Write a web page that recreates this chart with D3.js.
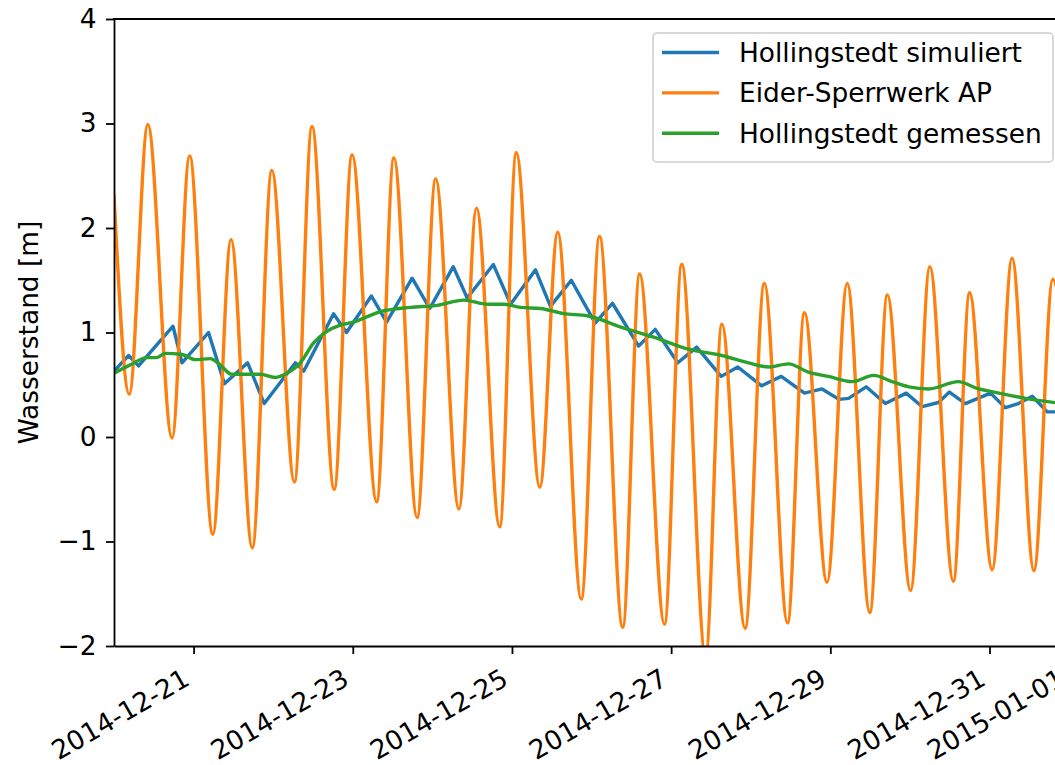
<!DOCTYPE html>
<html>
<head>
<meta charset="utf-8">
<script src="https://cdn.jsdelivr.net/npm/d3@7"></script>
<style>
  body { margin: 0; background: #fff; }
  svg { display: block; font-family: "DejaVu Sans", sans-serif; }
</style>
</head>
<body>
<div id="chart"></div>
<script>
// time values are hours after 2014-12-20 00:00
var startDay = "2014-12-20";

var seriesNames = ["Hollingstedt simuliert", "Eider-Sperrwerk AP", "Hollingstedt gemessen"];
var seriesColors = ["#1f77b4", "#ff7f0e", "#2ca02c"];

var xTickLabels = ["2014-12-21", "2014-12-23", "2014-12-25", "2014-12-27", "2014-12-29", "2014-12-31", "2015-01-01"];
var yTicks = [-2, -1, 0, 1, 2, 3, 4];
var yLabel = "Wasserstand [m]";

var simHours = [0, 4.4, 7.4, 17.8, 20.5, 28.5, 33.3, 40.3, 45.3, 54.7, 57.2, 66.2, 70.1, 77.6, 82.2, 89.9, 95.2,
    102.3, 106.5, 114.4, 119.6, 127.1, 131.6, 137.9, 145.1, 150.3, 158.2, 163.2, 170.0, 175.7, 183.1, 188.1,
    195.3, 201.2, 208.2, 213.5, 218.6, 221.5, 226.8, 232.6, 238.9, 243.7, 248.6, 251.9, 256.7, 264.3, 268.8,
    272.7, 276.9, 281.4, 286];
var simValues = [0.63, 0.78, 0.68, 1.06, 0.71, 1.0, 0.51, 0.71, 0.32, 0.71, 0.63, 1.18, 1.0, 1.35, 1.10, 1.52, 1.23,
    1.63, 1.33, 1.65, 1.27, 1.60, 1.25, 1.50, 1.09, 1.28, 0.87, 1.03, 0.71, 0.86, 0.58, 0.67,
    0.49, 0.58, 0.42, 0.46, 0.36, 0.37, 0.48, 0.32, 0.42, 0.29, 0.33, 0.43, 0.32, 0.42, 0.28,
    0.32, 0.39, 0.24, 0.24];

var apHours = [0, 4.6, 10.2, 17.5, 22.8, 29.8, 35.3, 41.7, 47.6, 54.4, 59.7, 66.4, 71.8, 79.2, 84.4, 91.4, 97.0,
    104.0, 109.3, 116.3, 121.3, 128.4, 133.8, 140.9, 146.4, 153.4, 158.5, 166.0, 171.2, 178.4, 183.3, 190.3,
    196.1, 203.1, 208.2, 215.0, 221.1, 227.9, 233.2, 240.2, 246.0, 253.1, 258.0, 264.8, 270.8, 277.4, 283.1, 289.5];
var apValues = [2.31, 0.41, 2.99, -0.01, 2.69, -0.93, 1.89, -1.06, 2.55, -0.43, 2.97, -0.50, 2.70, -0.62, 2.67, -0.77, 2.47,
    -0.69, 2.19, -0.86, 2.72, -0.48, 1.96, -1.55, 1.92, -1.82, 1.56, -1.79, 1.65, -2.1, 1.08, -1.83,
    1.47, -1.78, 1.19, -1.39, 1.47, -1.68, 1.36, -1.47, 1.63, -1.38, 1.38, -1.27, 1.71, -1.28, 1.51, -1.2];

var gemHours = [0, 4.9, 9.9, 12.9, 15.5, 20.5, 24.5, 29.0, 32.0, 35.5, 40.1, 44.1, 48.6, 52.1, 56.2, 60.2, 64.2,
    68.2, 72.2, 80.4, 89.4, 97.5, 105.5, 112.6, 117.6, 122.6, 128.6, 135.6, 142.7, 153.1, 163.2, 173.2,
    183.3, 191.3, 197.4, 203.4, 209.4, 215.4, 222.6, 229.1, 234.6, 239.7, 245.7, 254.6, 259.8, 266.8, 274.9, 286];
var gemValues = [0.61, 0.69, 0.76, 0.76, 0.80, 0.79, 0.74, 0.75, 0.69, 0.60, 0.60, 0.60, 0.57, 0.61, 0.71, 0.90, 1.01,
    1.07, 1.10, 1.20, 1.24, 1.26, 1.31, 1.27, 1.27, 1.24, 1.23, 1.18, 1.16, 1.05, 0.95, 0.84,
    0.78, 0.71, 0.67, 0.70, 0.62, 0.58, 0.53, 0.59, 0.53, 0.48, 0.46, 0.53, 0.47, 0.42, 0.37, 0.32];

var width = 1055
var height = 765

var plot = {left: 114, top: 19, bottom: 646, right: 1089}
var fontSize = 26.4
var spineWidth = 1.8
var lineWidth = 3.4
var tickLen = 8
var tickPad = 9.5

var parseDay = d3.timeParse("%Y-%m-%d")
var t0 = parseDay(startDay)
var hourToDate = function(h) { return new Date(t0.getTime() + h * 3600000) }

var x = d3.scaleTime()
    .domain([t0, hourToDate(12.25 * 24)])
    .range([plot.left, plot.right])

var y = d3.scaleLinear()
    .domain([-2, 4])
    .range([plot.bottom, plot.top])

var svg = d3.select("#chart").append("svg")
    .attr("width", width)
    .attr("height", height)

svg.append("defs").append("clipPath")
    .attr("id", "clip")
    .append("rect")
    .attr("x", plot.left)
    .attr("y", plot.top)
    .attr("width", plot.right - plot.left)
    .attr("height", plot.bottom - plot.top)

var series = [
    {name: seriesNames[0], color: seriesColors[0], hours: simHours, values: simValues, curve: d3.curveLinear},
    {name: seriesNames[1], color: seriesColors[1], hours: apHours, values: apValues, curve: d3.curveMonotoneX},
    {name: seriesNames[2], color: seriesColors[2], hours: gemHours, values: gemValues, curve: d3.curveMonotoneX}
]

var lines = svg.append("g").attr("clip-path", "url(#clip)")

// matplotlib draws later series on top
series.forEach(function(s) {
    var pts = s.hours.map(function(h, i) { return [hourToDate(h), s.values[i]] })
    var line = d3.line()
        .x(function(d) { return x(d[0]) })
        .y(function(d) { return y(d[1]) })
        .curve(s.curve)
    lines.append("path")
        .datum(pts)
        .attr("d", line)
        .attr("fill", "none")
        .attr("stroke", s.color)
        .attr("stroke-width", lineWidth)
        .attr("stroke-linejoin", "round")
        .attr("stroke-linecap", "square")
})

var fmtY = function(d) { return d < 0 ? "\u2212" + Math.abs(d) : String(d) }

var yAxis = svg.append("g")
    .attr("transform", "translate(" + plot.left + ",0)")
    .call(d3.axisLeft(y).tickValues(yTicks).tickFormat(fmtY)
        .tickSize(tickLen).tickSizeOuter(0).tickPadding(tickPad))

var xAxis = svg.append("g")
    .attr("transform", "translate(0," + plot.bottom + ")")
    .call(d3.axisBottom(x).tickValues(xTickLabels.map(parseDay)).tickFormat(d3.timeFormat("%Y-%m-%d"))
        .tickSize(tickLen).tickSizeOuter(0).tickPadding(tickPad))

xAxis.selectAll(".tick text")
    .attr("x", 0)
    .attr("y", 0)
    .attr("dy", "0.78em")
    .attr("transform", "translate(-13,20) rotate(-30)")
    .style("text-anchor", "end")

;[xAxis, yAxis].forEach(function(ax) {
    ax.selectAll("text")
        .attr("fill", "#000")
        .style("font-size", fontSize + "px")
        .style("font-family", "'DejaVu Sans', sans-serif")
    ax.selectAll("line").attr("stroke", "#000").attr("stroke-width", spineWidth)
    ax.select(".domain").attr("stroke", "#000").attr("stroke-width", spineWidth)
})

// top and right spines
svg.append("line")
    .attr("x1", plot.left).attr("x2", plot.right)
    .attr("y1", plot.top).attr("y2", plot.top)
    .attr("stroke", "#000").attr("stroke-width", spineWidth).attr("stroke-linecap", "square")
svg.append("line")
    .attr("x1", plot.right).attr("x2", plot.right)
    .attr("y1", plot.top).attr("y2", plot.bottom)
    .attr("stroke", "#000").attr("stroke-width", spineWidth)

svg.append("text")
    .attr("transform", "translate(38," + ((plot.top + plot.bottom) / 2) + ") rotate(-90)")
    .attr("text-anchor", "middle")
    .attr("fill", "#000")
    .style("font-size", fontSize + "px")
    .text(yLabel)

// legend
var legend = svg.append("g")

legend.append("rect")
    .attr("x", 653)
    .attr("y", 33)
    .attr("width", 400)
    .attr("height", 129)
    .attr("rx", 4)
    .attr("fill", "#fff")
    .attr("fill-opacity", 0.8)
    .attr("stroke", "#cccccc")
    .attr("stroke-width", 1.5)

var entries = legend.selectAll(".entry")
    .data(series)
    .enter().append("g")
    .attr("class", "entry")
    .attr("transform", function(d, i) { return "translate(0," + (52.5 + i * 40.4) + ")" })

entries.append("line")
    .attr("x1", 662).attr("x2", 719)
    .attr("stroke", function(d) { return d.color })
    .attr("stroke-width", lineWidth)

entries.append("text")
    .attr("x", 739)
    .attr("dy", "0.35em")
    .attr("fill", "#000")
    .style("font-size", fontSize + "px")
    .text(function(d) { return d.name })
</script>
</body>
</html>
